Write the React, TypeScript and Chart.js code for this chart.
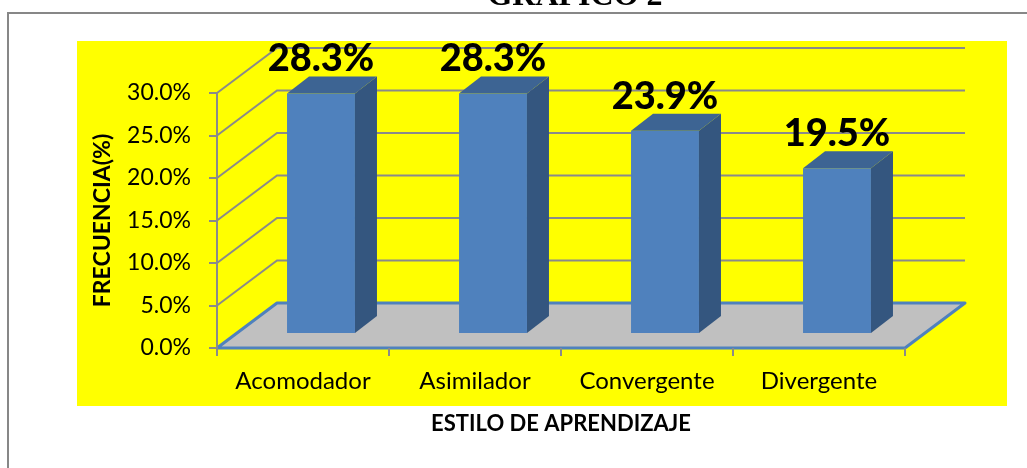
import React, { useEffect, useRef } from 'react';
import { Chart, registerables } from 'chart.js';

Chart.register(...registerables);

// ---- data ----
const categories = ['Acomodador', 'Asimilador', 'Convergente', 'Divergente'];
const frecuencia = [28.3, 28.3, 23.9, 19.5];
const yTickValues = [0, 5, 10, 15, 20, 25, 30];
const yTickLabels = ['0.0%', '5.0%', '10.0%', '15.0%', '20.0%', '25.0%', '30.0%'];
const chartTitle = 'GRÁFICO 2';
const xAxisTitle = 'ESTILO DE APRENDIZAJE';
const yAxisTitle = 'FRECUENCIA(%)';

// ---- style ----
const FONT = 'Lato';
const WALL = { dx: 60, dy: -45 };
const BAR_SHIFT = { dx: 18, dy: -14 };
const BAR_DEPTH = { dx: 22, dy: -17 };
const FRONT = '#4F81BD';
const SIDE = '#34567F';
const TOP = '#3D6493';
const GRID = '#8A8A8A';

const threeD = {
  id: 'threeD',
  beforeDraw(chart: any) {
    const { ctx, chartArea, scales } = chart;
    const { left, right } = chartArea;
    const y = scales.y;
    ctx.save();
    ctx.fillStyle = '#ffffff';
    ctx.fillRect(0, 0, chart.width, chart.height);
    // outer frame
    ctx.fillStyle = '#878787';
    ctx.fillRect(7, 12, chart.width, 2);
    ctx.fillRect(7, 12, 2, chart.height);
    // title (cut off at the top)
    ctx.fillStyle = '#000';
    ctx.font = 'bold 32px "Liberation Serif"';
    ctx.textAlign = 'center';
    ctx.textBaseline = 'alphabetic';
    ctx.fillText(chartTitle, 575, 5);
    // plot background
    ctx.fillStyle = '#FFFF00';
    ctx.fillRect(77, 41, 930, 365);
    // back wall grid lines
    ctx.strokeStyle = GRID;
    ctx.lineWidth = 2;
    yTickValues.forEach((v) => {
      if (v === 0) return;
      const py = y.getPixelForValue(v);
      ctx.beginPath();
      ctx.moveTo(left, py);
      ctx.lineTo(left + WALL.dx, py + WALL.dy);
      ctx.lineTo(right + WALL.dx, py + WALL.dy);
      ctx.stroke();
    });
    // floor
    const b = y.getPixelForValue(0);
    ctx.beginPath();
    ctx.moveTo(left, b);
    ctx.lineTo(right, b);
    ctx.lineTo(right + WALL.dx, b + WALL.dy);
    ctx.lineTo(left + WALL.dx, b + WALL.dy);
    ctx.closePath();
    ctx.fillStyle = '#C0C0C0';
    ctx.fill();
    ctx.strokeStyle = FRONT;
    ctx.lineWidth = 3;
    ctx.lineJoin = 'round';
    ctx.stroke();
    ctx.restore();
  },
  beforeDatasetDraw(chart: any) {
    chart.ctx.save();
    chart.ctx.translate(BAR_SHIFT.dx, BAR_SHIFT.dy);
  },
  afterDatasetDraw(chart: any, args: any) {
    const ctx = chart.ctx;
    const ds = chart.data.datasets[args.index];
    args.meta.data.forEach((bar: any, i: number) => {
      const { x, y, base, width } = bar.getProps(['x', 'y', 'base', 'width'], true);
      const l = x - width / 2;
      const r = x + width / 2;
      const { dx, dy } = BAR_DEPTH;
      // side face
      ctx.fillStyle = SIDE;
      ctx.beginPath();
      ctx.moveTo(r, y);
      ctx.lineTo(r + dx, y + dy);
      ctx.lineTo(r + dx, base + dy);
      ctx.lineTo(r, base);
      ctx.closePath();
      ctx.fill();
      // top face
      ctx.fillStyle = TOP;
      ctx.beginPath();
      ctx.moveTo(l, y);
      ctx.lineTo(l + dx, y + dy);
      ctx.lineTo(r + dx, y + dy);
      ctx.lineTo(r, y);
      ctx.closePath();
      ctx.fill();
      // value label
      ctx.fillStyle = '#000';
      ctx.font = `900 38px ${FONT}`;
      ctx.textAlign = 'center';
      ctx.textBaseline = 'alphabetic';
      ctx.fillText(`${ds.data[i].toFixed(1)}%`, x, y + dy - 5);
    });
    ctx.restore();
  },
};

export default function App() {
  const ref = useRef<HTMLCanvasElement>(null);
  useEffect(() => {
    if (!ref.current) return;
    const chart = new Chart(ref.current, {
      type: 'bar',
      data: {
        labels: categories,
        datasets: [
          {
            label: 'Frecuencia',
            data: frecuencia,
            backgroundColor: FRONT,
            borderWidth: 0,
            categoryPercentage: 1,
            barPercentage: 0.395,
            clip: false as any,
          },
        ],
      },
      options: {
        animation: false,
        responsive: true,
        maintainAspectRatio: false,
        devicePixelRatio: 1,
        layout: { padding: { left: 77, right: 122, top: 93, bottom: 28 } },
        plugins: { legend: { display: false }, tooltip: { enabled: false }, title: { display: false } },
        scales: {
          x: {
            type: 'category',
            afterFit: (s: any) => { s.height = 92; },
            grid: { display: true, offset: true, drawOnChartArea: false, drawTicks: true, tickLength: 8, color: GRID, lineWidth: 2 },
            border: { display: false },
            ticks: { color: '#000', font: { family: FONT, size: 24 }, padding: 11, maxRotation: 0, autoSkip: false },
            title: { display: true, text: xAxisTitle, color: '#000', font: { family: FONT, size: 22, weight: 'bold' }, padding: { top: 0, bottom: 3 } },
          },
          y: {
            min: 0,
            max: 30,
            afterFit: (s: any) => { s.width = 140; },
            afterBuildTicks: (s: any) => { s.ticks = yTickValues.map((v) => ({ value: v })); },
            grid: { display: true, drawOnChartArea: false, drawTicks: true, tickLength: 8, color: GRID, lineWidth: 2 },
            border: { display: true, color: GRID, width: 2 },
            ticks: {
              color: '#000',
              font: { family: FONT, size: 23 },
              padding: 18,
              callback: (v: any) => yTickLabels[yTickValues.indexOf(Number(v))],
            },
            title: { display: true, text: yAxisTitle, color: '#000', font: { family: FONT, size: 23, weight: 'bold' }, padding: { top: 12, bottom: 0 } },
          },
        },
      },
      plugins: [threeD],
    });
    return () => chart.destroy();
  }, []);
  return (
    <div style={{ position: 'fixed', left: 0, top: 0, width: 1027, height: 468 }}>
      <canvas ref={ref} style={{ display: 'block' }} />
    </div>
  );
}
